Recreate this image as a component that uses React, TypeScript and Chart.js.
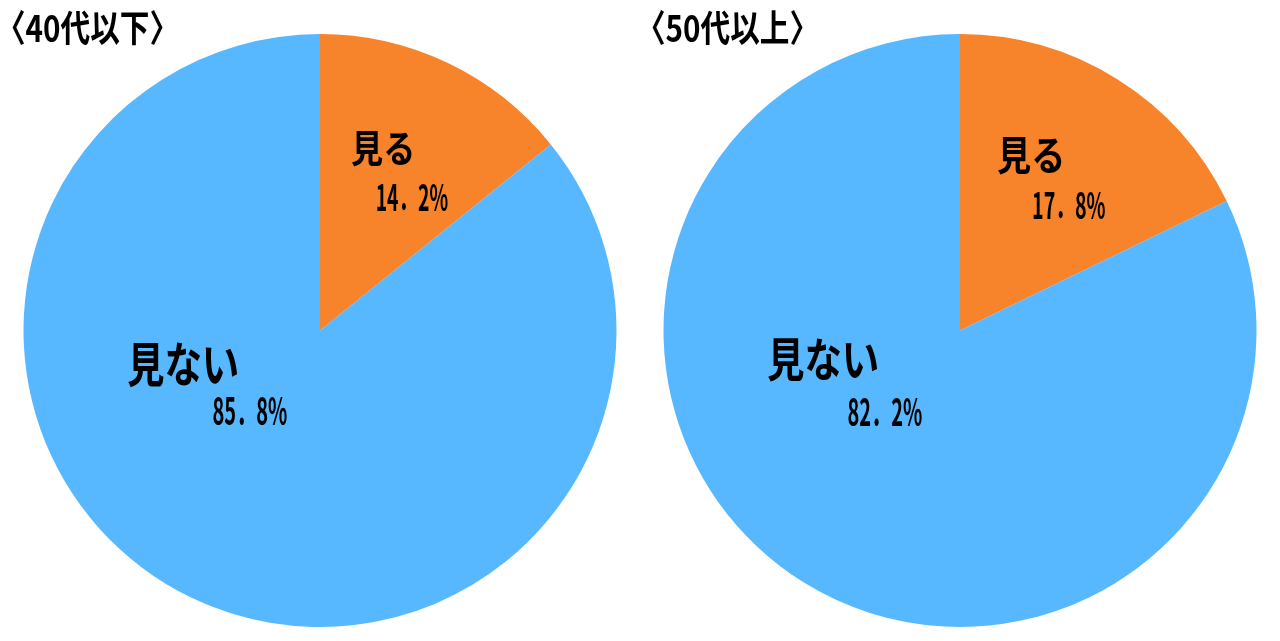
import React, { useEffect, useRef } from "react";
import { Chart, registerables } from "chart.js";

Chart.register(...registerables);

const categories = ["見る", "見ない"];
const groupTitles = ["〈40代以下〉", "〈50代以上〉"];
const under40Values = [14.2, 85.8];
const over50Values = [17.8, 82.2];
const sliceColors = ["#F7832B", "#57B8FF"];

// label placement: offsets from pie centre as fraction of radius, [name, value]
const labelLayouts = [
  [
    { name: [0.209, -0.613], value: [0.311, -0.449], nameW: 60, nameH: 38, valueW: 71, valueH: 36 },
    { name: [-0.463, 0.118], value: [-0.236, 0.27], nameW: 110, nameH: 48, valueW: 74, valueH: 38 },
  ],
  [
    { name: [0.236, -0.59], value: [0.368, -0.422], nameW: 64, nameH: 40, valueW: 72, valueH: 36 },
    { name: [-0.463, 0.098], value: [-0.253, 0.274], nameW: 110, nameH: 46, valueW: 74, valueH: 38 },
  ],
];
const titleLayouts = [
  { cx: 87.5, cy: 28, w: 151, size: 37 },
  { cx: 727.5, cy: 28, w: 151, size: 37 },
];

const FONT = '"Noto Sans CJK JP", "Noto Sans", sans-serif';

function drawFit(ctx: CanvasRenderingContext2D, text: string, size: number, cx: number, cy: number, targetW: number) {
  ctx.save();
  ctx.font = `bold ${size}px ${FONT}`;
  ctx.textAlign = "left";
  ctx.textBaseline = "alphabetic";
  const m = ctx.measureText(text);
  const left = -m.actualBoundingBoxLeft;
  const right = m.actualBoundingBoxRight;
  const inkW = right - left;
  const asc = m.actualBoundingBoxAscent;
  const desc = m.actualBoundingBoxDescent;
  const sx = targetW / inkW;
  ctx.translate(cx, cy);
  ctx.scale(sx, 1);
  ctx.fillStyle = "#000000";
  ctx.fillText(text, -(left + right) / 2, (asc - desc) / 2);
  ctx.restore();
}

function fmt(v: number) {
  return v.toFixed(1).replace(".", "．") + "%";
}

function PieChart({ values, index }: { values: number[]; index: number }) {
  const ref = useRef<HTMLCanvasElement | null>(null);
  useEffect(() => {
    if (!ref.current) return;
    const labelPlugin = {
      id: "labels" + index,
      afterDraw(chart: any) {
        const ctx = chart.ctx as CanvasRenderingContext2D;
        const meta = chart.getDatasetMeta(0);
        const t = titleLayouts[index];
        drawFit(ctx, groupTitles[index], t.size, t.cx - index * 640, t.cy, t.w);
        meta.data.forEach((arc: any, i: number) => {
          const { x, y, outerRadius } = arc.getProps(["x", "y", "outerRadius"], true);
          const L = labelLayouts[index][i];
          drawFit(ctx, categories[i], L.nameH, x + L.name[0] * outerRadius, y + L.name[1] * outerRadius, L.nameW);
          drawFit(ctx, fmt(values[i]), L.valueH, x + L.value[0] * outerRadius, y + L.value[1] * outerRadius, L.valueW);
        });
      },
    };
    const chart = new Chart(ref.current, {
      type: "pie",
      data: {
        labels: categories,
        datasets: [
          {
            data: values,
            backgroundColor: sliceColors,
            borderWidth: 0,
          },
        ],
      },
      options: {
        animation: false,
        responsive: false,
        maintainAspectRatio: false,
        layout: { padding: { top: 34, bottom: 14, left: 0, right: 0 } },
        plugins: {
          legend: { display: false },
          tooltip: { enabled: false },
          title: { display: false },
        },
      },
      plugins: [labelPlugin],
    });
    return () => chart.destroy();
  }, [values, index]);
  return <canvas ref={ref} width={640} height={641} style={{ display: "block", width: 640, height: 641 }} />;
}

export default function App() {
  return (
    <div style={{ position: "fixed", left: 0, top: 0, width: 1280, height: 641, background: "#ffffff", display: "flex" }}>
      <PieChart values={under40Values} index={0} />
      <PieChart values={over50Values} index={1} />
    </div>
  );
}
